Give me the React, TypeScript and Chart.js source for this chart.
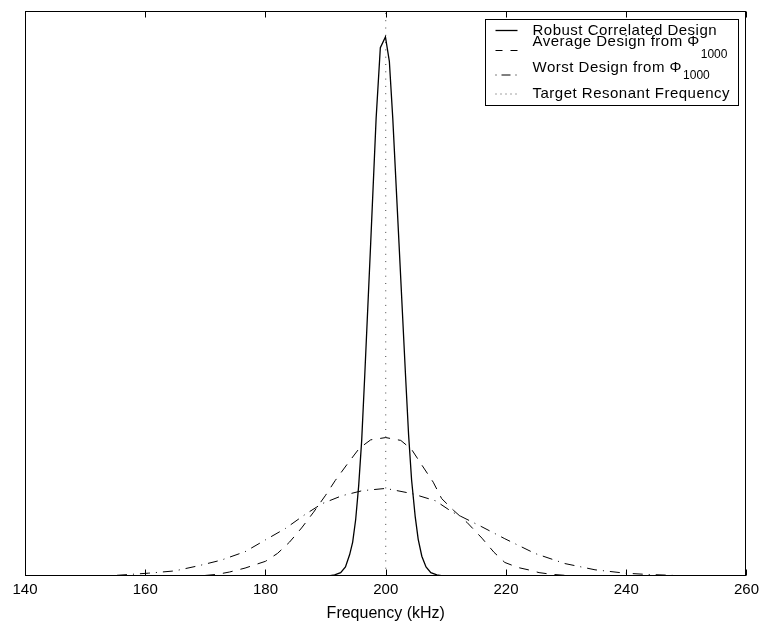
import React, { useEffect, useRef } from 'react';
import { Chart, registerables } from 'chart.js';

Chart.register(...registerables);

const FONT = '"Liberation Sans", Arial, Helvetica, sans-serif';

// ---- data ----
const xTicks = [140, 160, 180, 200, 220, 240, 260];
const xTitle = 'Frequency (kHz)';
const seriesNames = [
  'Robust Correlated Design',
  'Average Design from Φ',
  'Worst Design from Φ',
  'Target Resonant Frequency',
];
const seriesSubscripts = ['', '1000', '1000', ''];

const robustFreq = [140, 190.5, 191.5, 192.5, 193.3, 194, 194.5, 195, 195.5, 196, 196.5, 197.5, 198.4, 199.1, 199.95, 200.6, 201.17, 202.2, 203.3, 203.8, 204.3, 204.9, 205.4, 206, 206.7, 207.5, 208.5, 209.5, 260];
const robustVals = [0, 0, 0.002, 0.006, 0.016, 0.038, 0.06, 0.1, 0.16, 0.24, 0.353, 0.59, 0.81, 0.935, 0.954, 0.911, 0.81, 0.59, 0.353, 0.25, 0.17, 0.105, 0.065, 0.035, 0.016, 0.006, 0.002, 0, 0];

const averageFreq = [140, 165, 170, 172, 174, 176.6, 178, 180, 182, 184, 186, 188, 190, 191.6, 193.6, 195.6, 197.5, 200, 202.5, 204.3, 205.9, 207.9, 209.3, 211.3, 213.5, 216, 218, 219.8, 222, 223.7, 225.5, 227.6, 230, 235, 260];
const averageVals = [0, 0, 0.001, 0.003, 0.007, 0.014, 0.019, 0.026, 0.04, 0.06, 0.085, 0.113, 0.143, 0.169, 0.198, 0.226, 0.241, 0.245, 0.24, 0.224, 0.198, 0.166, 0.137, 0.116, 0.095, 0.067, 0.042, 0.024, 0.015, 0.011, 0.006, 0.003, 0.001, 0, 0];

const worstFreq = [140, 150, 155, 160.5, 164.9, 168.8, 172.6, 176.6, 180, 183.3, 186.6, 189.4, 192.7, 196.1, 200, 204.3, 208.3, 211.1, 216, 219.8, 224.8, 229.8, 234.8, 239.8, 243.1, 248, 253, 260];
const worstVals = [0, 0, 0.001, 0.005, 0.009, 0.018, 0.028, 0.043, 0.064, 0.084, 0.109, 0.128, 0.142, 0.151, 0.155, 0.146, 0.133, 0.113, 0.087, 0.066, 0.04, 0.022, 0.011, 0.005, 0.003, 0.001, 0, 0];

const targetFreq = [200, 200];
const targetVals = [0, 1];

const toPoints = (xs: number[], ys: number[]) => xs.map((x, i) => ({ x, y: ys[i] }));

const legendDashes = [[], [7, 8], [1, 5, 9, 5], [1, 4]];

const framePlugin = {
  id: 'matlabFrame',
  afterDraw(chart: any) {
    const { ctx, chartArea: a, scales } = chart;
    const xs = scales.x;
    ctx.save();
    ctx.strokeStyle = '#000';
    ctx.lineWidth = 1;
    ctx.setLineDash([]);
    const L = Math.round(a.left) + 0.5;
    const R = Math.round(a.right) - 0.5;
    const T = Math.round(a.top) + 0.5;
    const B = Math.round(a.bottom) - 0.5;
    ctx.strokeRect(L, T, R - L, B - T);
    ctx.beginPath();
    xs.ticks.forEach((t: any) => {
      const px = Math.round(xs.getPixelForValue(t.value)) + 0.5;
      ctx.moveTo(px, B);
      ctx.lineTo(px, B - 6);
      ctx.moveTo(px, T);
      ctx.lineTo(px, T + 6);
    });
    ctx.stroke();

    // legend
    const lx = 485.5;
    const rx = R - 7;
    const ty = T + 8;
    const by = ty + 86;
    ctx.fillStyle = '#fff';
    ctx.fillRect(lx, ty, rx - lx, by - ty);
    ctx.strokeRect(lx, ty, rx - lx, by - ty);

    const rows = [
      { lineY: 30.5, base: 35, subBase: 0 },
      { lineY: 50.5, base: 46, subBase: 58 },
      { lineY: 75, base: 71.5, subBase: 78.5 },
      { lineY: 94, base: 97.5, subBase: 0 },
    ];
    const sx0 = lx + 10;
    const sx1 = lx + 32;
    const tx = lx + 47;
    ctx.textBaseline = 'alphabetic';
    ctx.textAlign = 'left';
    rows.forEach((r, i) => {
      ctx.beginPath();
      ctx.setLineDash(legendDashes[i]);
      ctx.lineWidth = i === 0 ? 1.3 : 1;
      ctx.strokeStyle = i === 3 ? '#444' : '#000';
      ctx.moveTo(sx0, r.lineY);
      ctx.lineTo(sx1, r.lineY);
      ctx.stroke();
      ctx.fillStyle = '#000';
      ctx.font = `15px ${FONT}`;
      try { (ctx as any).letterSpacing = '0.5px'; } catch (e) {}
      ctx.fillText(seriesNames[i], tx, r.base);
      if (seriesSubscripts[i]) {
        const w = ctx.measureText(seriesNames[i]).width;
        ctx.font = `12px ${FONT}`;
        try { (ctx as any).letterSpacing = '0px'; } catch (e) {}
        ctx.fillText(seriesSubscripts[i], tx + w + 1, r.subBase);
      }
      try { (ctx as any).letterSpacing = '0px'; } catch (e) {}
    });
    ctx.restore();
  },
};

export default function App() {
  const ref = useRef<HTMLCanvasElement | null>(null);
  useEffect(() => {
    if (!ref.current) return;
    const chart = new Chart(ref.current, {
      type: 'line',
      data: {
        datasets: [
          {
            label: seriesNames[0],
            data: toPoints(robustFreq, robustVals),
            borderColor: '#000',
            borderWidth: 1.3,
            pointRadius: 0,
            fill: false,
          },
          {
            label: seriesNames[1] + seriesSubscripts[1],
            data: toPoints(averageFreq, averageVals),
            borderColor: '#000',
            borderWidth: 1,
            borderDash: [10, 8],
            pointRadius: 0,
            fill: false,
          },
          {
            label: seriesNames[2] + seriesSubscripts[2],
            data: toPoints(worstFreq, worstVals),
            borderColor: '#000',
            borderWidth: 1,
            borderDash: [10, 6, 1, 6],
            pointRadius: 0,
            fill: false,
          },
          {
            label: seriesNames[3],
            data: toPoints(targetFreq, targetVals),
            borderColor: '#444',
            borderWidth: 1,
            borderDash: [1, 6.3],
            pointRadius: 0,
            fill: false,
          },
        ],
      },
      options: {
        animation: false,
        responsive: false,
        layout: { padding: { left: 25, right: 16, top: 11, bottom: 5.6 } },
        elements: { line: { tension: 0 }, point: { radius: 0 } },
        plugins: { legend: { display: false }, tooltip: { enabled: false } },
        scales: {
          x: {
            type: 'linear',
            min: 140,
            max: 260,
            afterBuildTicks: (s: any) => {
              s.ticks = xTicks.map((v) => ({ value: v }));
            },
            grid: { display: false, drawTicks: false },
            border: { display: false },
            ticks: {
              font: { family: FONT, size: 15, lineHeight: 1.2 },
              color: '#000',
              padding: 5,
              maxRotation: 0,
              autoSkip: false,
            },
            title: {
              display: true,
              text: xTitle,
              font: { family: FONT, size: 16, lineHeight: 1.15 },
              color: '#000',
              padding: { top: 0, bottom: 0 },
            },
          },
          y: { display: false, min: 0, max: 1 },
        },
      },
      plugins: [framePlugin],
    });
    return () => chart.destroy();
  }, []);
  return (
    <div style={{ position: 'fixed', left: 0, top: 0, width: 764, height: 628, background: '#fff' }}>
      <canvas ref={ref} width={764} height={628} style={{ display: 'block' }} />
    </div>
  );
}
